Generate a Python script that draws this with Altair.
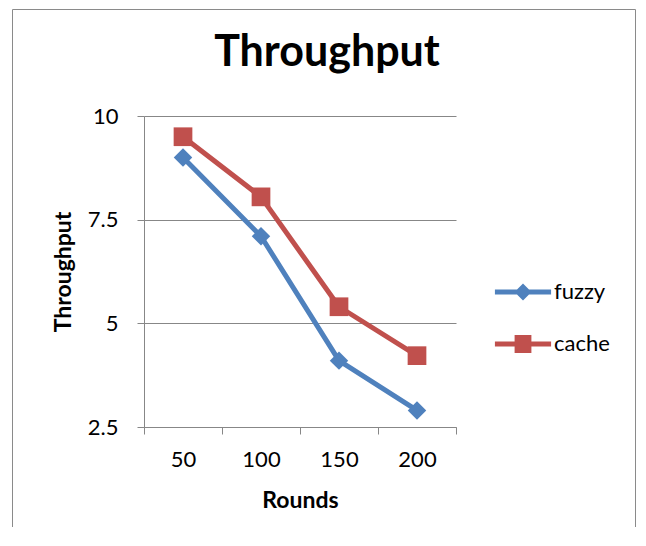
import altair as alt
import pandas as pd

# ---- data ----
rounds = [50, 100, 150, 200]
fuzzy = [9.0, 7.1, 4.1, 2.9]
cache = [9.5, 8.05, 5.4, 4.22]
series_names = ["fuzzy", "cache"]
y_ticks = [2.5, 5, 7.5, 10]
x_label_values = [50, 100, 150, 200]
x_tick_values = [25, 75, 125, 175, 225]

df = pd.DataFrame({
    "Rounds": rounds * 2,
    "Throughput": fuzzy + cache,
    "series": ["fuzzy"] * len(rounds) + ["cache"] * len(rounds),
})

BLUE = "#4F81BD"
RED = "#C0504D"
GRID = "#878787"
FONT = "Lato"

# legend symbols: line with marker (custom SVG paths, unit coords)
DIAMOND_LINE = ("M-1.17,-0.1L-0.25,-0.1L0,-0.35L0.25,-0.1L1.17,-0.1L1.17,0.1"
                "L0.25,0.1L0,0.35L-0.25,0.1L-1.17,0.1Z")
SQUARE_LINE = ("M-1.17,-0.1L-0.35,-0.1L-0.35,-0.37L0.35,-0.37L0.35,-0.1L1.17,-0.1"
               "L1.17,0.1L0.35,0.1L0.35,0.37L-0.35,0.37L-0.35,0.1L-1.17,0.1Z")

color_scale = alt.Scale(domain=series_names, range=[BLUE, RED])
x_scale = alt.Scale(domain=[25, 225], nice=False, zero=False)
y_scale = alt.Scale(domain=[2.5, 10], nice=False, zero=False)

x_enc = alt.X(
    "Rounds:Q", scale=x_scale,
    axis=alt.Axis(
        values=x_label_values, format="d",
        grid=False, ticks=False, domainColor=GRID,
        labelFont=FONT, labelFontSize=22, labelColor="black", labelPadding=22,
        title="Rounds", titleFont=FONT, titleFontSize=23, titleFontWeight="bold",
        titleColor="black", titlePadding=19,
    ),
)
y_enc = alt.Y(
    "Throughput:Q", scale=y_scale,
    axis=alt.Axis(
        values=y_ticks, labelExpr="'' + datum.value",
        grid=True, gridColor=GRID, gridWidth=1,
        tickSize=7, tickColor=GRID, domainColor=GRID,
        labelFont=FONT, labelFontSize=22, labelColor="black", labelPadding=19,
        title="Throughput", titleFont=FONT, titleFontSize=23, titleFontWeight="bold",
        titleColor="black", titlePadding=12,
    ),
)

base = alt.Chart(df)

series_style = {
    "fuzzy": dict(color=BLUE, shape="diamond", size=340),
    "cache": dict(color=RED, shape="square", size=350),
}

layers = []
for name in series_names:
    st = series_style[name]
    sub = base.transform_filter(alt.datum.series == name)
    layers.append(
        sub.mark_line(strokeWidth=5, strokeCap="round", strokeJoin="round",
                      color=st["color"]).encode(x=x_enc, y=y_enc)
    )
for name in series_names:
    st = series_style[name]
    sub = base.transform_filter(alt.datum.series == name)
    layers.append(
        sub.mark_point(filled=True, shape=st["shape"], size=st["size"], opacity=1,
                       color=st["color"]).encode(x="Rounds:Q", y="Throughput:Q")
    )

legend_props = dict(
    orient="none", legendX=355, legendY=152, title=None,
    labelFont=FONT, labelFontSize=22, labelColor="black",
    symbolSize=2304, symbolStrokeWidth=0, symbolOpacity=1,
    rowPadding=17, labelOffset=7,
)

# legend-only layer: no marks drawn (empty after filter), entries come from the scale domain
legend_layer = base.transform_filter("false").mark_point(filled=True).encode(
    x="Rounds:Q", y="Throughput:Q",
    color=alt.Color("series:N", scale=color_scale, legend=alt.Legend(**legend_props)),
    shape=alt.Shape("series:N",
                    scale=alt.Scale(domain=series_names, range=[DIAMOND_LINE, SQUARE_LINE]),
                    legend=alt.Legend(**legend_props)),
)
layers.append(legend_layer)

main = alt.layer(*layers)

# category-boundary ticks on the x axis
tick_layer = base.mark_point(opacity=0).encode(
    x=alt.X("Rounds:Q", scale=x_scale,
            axis=alt.Axis(values=x_tick_values, labels=False, domain=False, grid=False,
                          tickSize=7, tickColor=GRID, title=None, orient="bottom")),
    y=alt.Y("Throughput:Q"),
)

frame = alt.Chart(pd.DataFrame({"f": [0]})).mark_rect(
    fillOpacity=0, stroke="#8a8a8a", strokeWidth=1
).encode(
    x=alt.value(-131.5), x2=alt.value(491.5),
    y=alt.value(-106.5), y2=alt.value(440),
)

chart = alt.layer(frame, main, tick_layer).resolve_scale(x="independent").properties(
    width=312,
    height=311,
    autosize=alt.AutoSizeParams(type="none"),
    padding={"left": 136, "top": 108, "right": 182, "bottom": 100},
    title=alt.TitleParams(
        "Throughput", font=FONT, fontSize=43, fontWeight="bold", color="black",
        anchor="middle", dx=27, offset=0, baseline="alphabetic", dy=100,
    ),
).configure_view(stroke=None)

chart.save("out.html", embed_options={"renderer": "svg", "actions": False})
